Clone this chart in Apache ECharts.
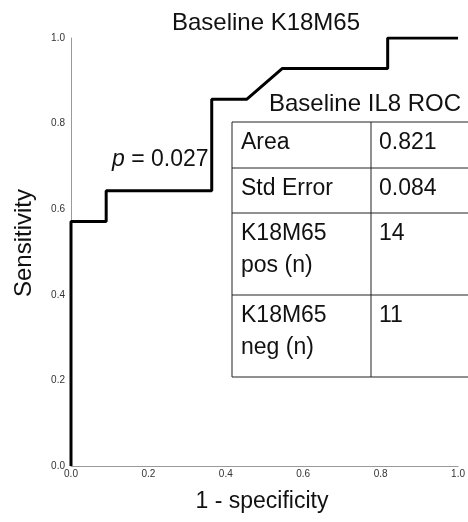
<!DOCTYPE html>
<html><head><meta charset="utf-8">
<script src="https://cdn.jsdelivr.net/npm/echarts@6/dist/echarts.min.js"></script>
<style>html,body{margin:0;padding:0;background:#fff}#c{width:468px;height:522px}</style>
</head><body><div id="c"></div>
<script>
// ROC curve points: [1 - specificity, sensitivity]
const fpr = [0, 0, 0.0909, 0.0909, 0.3636, 0.3636, 0.4545, 0.5455, 0.8182, 0.8182, 1.0];
const tpr = [0, 0.5714, 0.5714, 0.6429, 0.6429, 0.8571, 0.8571, 0.9286, 0.9286, 1.0, 1.0];
const tickLabels = ['0.0', '0.2', '0.4', '0.6', '0.8', '1.0'];
const chartTitle = 'Baseline K18M65';
const xName = '1 - specificity';
const yName = 'Sensitivity';
const tableTitle = 'Baseline IL8 ROC';
const tableKeys = ['Area', 'Std Error', 'K18M65\npos (n)', 'K18M65\nneg (n)'];
const tableVals = ['0.821', '0.084', '14', '11'];
const pText = '0.027';

const chart = echarts.init(document.getElementById('c'), null, {renderer: 'canvas'});
const FONT = '"Liberation Sans", Arial, sans-serif';
const INK = '#111';

// table layout
const tx0 = 232, tx1 = 371, tx2 = 476;
const rowY = [122, 168, 213, 295, 377];
const graphics = [];
graphics.push({type: 'text', x: 266, y: 23, style: {text: chartTitle, font: '24px ' + FONT, fill: INK, textAlign: 'center', textVerticalAlign: 'middle'}});
graphics.push({type: 'text', x: 269, y: 104, style: {text: tableTitle, font: '24px ' + FONT, fill: INK, textAlign: 'left', textVerticalAlign: 'middle'}});
graphics.push({type: 'text', x: 262, y: 502, style: {text: xName, font: '23px ' + FONT, fill: INK, textAlign: 'center', textVerticalAlign: 'middle'}});
graphics.push({type: 'text', x: 24, y: 243, rotation: Math.PI / 2, style: {text: yName, font: '24px ' + FONT, fill: INK, textAlign: 'center', textVerticalAlign: 'middle'}});
graphics.push({type: 'rect', shape: {x: tx0, y: rowY[0], width: tx2 - tx0, height: rowY[4] - rowY[0]}, style: {fill: '#fff', stroke: '#222', lineWidth: 1}, z: 10});
graphics.push({type: 'line', shape: {x1: tx1, y1: rowY[0], x2: tx1, y2: rowY[4]}, style: {stroke: '#222', lineWidth: 1}, z: 11});
for (let i = 1; i < 4; i++) {
  graphics.push({type: 'line', shape: {x1: tx0, y1: rowY[i], x2: tx2, y2: rowY[i]}, style: {stroke: '#222', lineWidth: 1}, z: 11});
}
for (let i = 0; i < 4; i++) {
  graphics.push({type: 'text', x: 241, y: rowY[i] + 5, style: {text: tableKeys[i], font: '23px ' + FONT, fill: INK, lineHeight: 32, textVerticalAlign: 'top'}, z: 12});
  graphics.push({type: 'text', x: 379, y: rowY[i] + 5, style: {text: tableVals[i], font: '23px ' + FONT, fill: INK, lineHeight: 32, textVerticalAlign: 'top'}, z: 12});
}
graphics.push({type: 'text', x: 112, y: 160, style: {rich: {i: {fontStyle: 'italic', fontSize: 23, fontFamily: FONT, fill: INK}, n: {fontSize: 23, fontFamily: FONT, fill: INK}}, text: '{i|p}{n| = ' + pText + '}', textVerticalAlign: 'middle'}, z: 12});

chart.setOption({
  animation: false,
  backgroundColor: '#fff',
  grid: {left: 71, right: 5, top: 38, bottom: 56},
  xAxis: {
    type: 'value', min: 0, max: 1, interval: 0.2,
    axisLine: {lineStyle: {color: '#999', width: 1}}, axisTick: {show: false}, splitLine: {show: false},
    axisLabel: {fontFamily: FONT, fontSize: 10, color: '#333', margin: 3, formatter: (v) => tickLabels[Math.round(v * 5)]}
  },
  yAxis: {
    type: 'value', min: 0, max: 1, interval: 0.2,
    axisLine: {show: true, lineStyle: {color: '#999', width: 1}}, axisTick: {show: false}, splitLine: {show: false},
    axisLabel: {fontFamily: FONT, fontSize: 10, color: '#333', margin: 6, formatter: (v) => tickLabels[Math.round(v * 5)]}
  },
  series: [{
    type: 'line', data: fpr.map((x, i) => [x, tpr[i]]), showSymbol: false,
    lineStyle: {color: '#000', width: 3}, z: 5
  }],
  graphic: graphics
});
</script></body></html>
